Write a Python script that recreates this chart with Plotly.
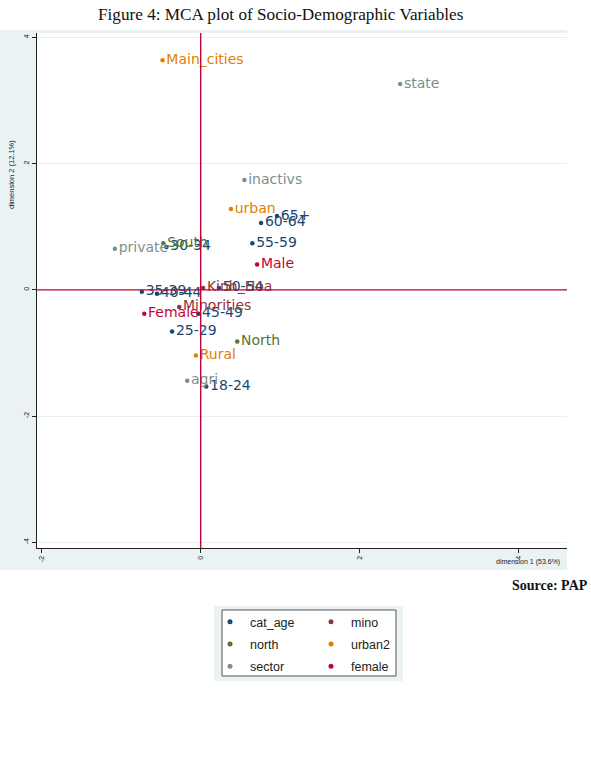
import plotly.graph_objects as go

W, H = 591, 762

# ---------------- data ----------------
groups = ["cat_age", "mino", "north", "urban2", "sector", "female"]

cat_age_labels = ["18-24", "25-29", "30-34", "35-39", "40-44", "45-49", "50-54", "55-59", "60-64", "65+"]
cat_age_dim1 = [0.07, -0.36, -0.43, -0.74, -0.55, -0.03, 0.23, 0.65, 0.76, 0.96]
cat_age_dim2 = [-1.53, -0.66, 0.68, -0.03, -0.06, -0.38, 0.03, 0.74, 1.06, 1.17]

mino_labels = ["Kinh_Hoa", "Minorities"]
mino_dim1 = [0.03, -0.27]
mino_dim2 = [0.03, -0.27]

north_labels = ["North", "South"]
north_dim1 = [0.46, -0.47]
north_dim2 = [-0.82, 0.74]

urban2_labels = ["Main_cities", "urban", "Rural"]
urban2_dim1 = [-0.48, 0.38, -0.06]
urban2_dim2 = [3.64, 1.28, -1.04]

sector_labels = ["agri", "inactivs", "private", "state"]
sector_dim1 = [-0.17, 0.55, -1.08, 2.51]
sector_dim2 = [-1.44, 1.74, 0.65, 3.26]

female_labels = ["Male", "Female"]
female_dim1 = [0.71, -0.71]
female_dim2 = [0.40, -0.38]

tick_vals = [-4, -2, 0, 2, 4]
tick_text = ["-4", "-2", "0", "2", "4"]

title_text = "Figure 4: MCA plot of Socio-Demographic Variables"
xtitle = "dimension 1 (53.6%)"
ytitle = "dimension 2 (12.1%)"
source_text = "Source: PAP"

# ---------------- styling ----------------
colors = {
    "cat_age": "#1a476f",
    "mino": "#90353b",
    "north": "#55752f",
    "urban2": "#e37e00",
    "sector": "#7d8f8c",
    "female": "#c10534",
}
legend_of = {"cat_age": "legend", "north": "legend", "sector": "legend",
             "mino": "legend2", "urban2": "legend2", "female": "legend2"}

data = {
    "cat_age": (cat_age_dim1, cat_age_dim2, cat_age_labels),
    "mino": (mino_dim1, mino_dim2, mino_labels),
    "north": (north_dim1, north_dim2, north_labels),
    "urban2": (urban2_dim1, urban2_dim2, urban2_labels),
    "sector": (sector_dim1, sector_dim2, sector_labels),
    "female": (female_dim1, female_dim2, female_labels),
}


def px(xp):
    return xp / W


def py(yp):
    return 1 - yp / H


BLUE = "#eaf2f3"
REF = "#c10534"

fig = go.Figure()

for g in groups:
    xs, ys, labs = data[g]
    c = colors[g]
    fig.add_trace(go.Scatter(
        x=xs, y=ys, text=labs, mode="markers+text",
        textposition="middle right",
        marker=dict(size=4.5, color=c),
        textfont=dict(family="DejaVu Sans", size=14, color=c),
        showlegend=False, legendgroup=g, legend=legend_of[g], name=g,
        hoverinfo="skip",
    ))
    fig.add_trace(go.Scatter(
        x=[None], y=[None], mode="markers",
        marker=dict(size=5, color=c),
        name=g, legendgroup=g, legend=legend_of[g], showlegend=True,
    ))

shapes = [
    # graph region (light blue)
    dict(type="rect", xref="paper", yref="paper", x0=0, x1=px(567), y0=py(570), y1=py(30),
         fillcolor=BLUE, line=dict(width=0), layer="below"),
    # plot region (white)
    dict(type="rect", xref="paper", yref="paper", x0=px(37), x1=px(567), y0=py(548), y1=py(33),
         fillcolor="white", line=dict(width=0), layer="below"),
    # legend outer region
    dict(type="rect", xref="paper", yref="paper", x0=px(214), x1=px(403), y0=py(681), y1=py(606),
         fillcolor=BLUE, line=dict(width=0), layer="below"),
    # legend box
    dict(type="rect", xref="paper", yref="paper", x0=px(222), x1=px(396), y0=py(676), y1=py(610),
         fillcolor="white", line=dict(width=1, color="#555555"), layer="below"),
    # reference lines at 0
    dict(type="line", xref="x", yref="y domain", x0=0, x1=0, y0=0, y1=1,
         line=dict(color=REF, width=1.4), layer="above"),
    dict(type="line", xref="x domain", yref="y", x0=0, x1=1, y0=0, y1=0,
         line=dict(color=REF, width=1.4), layer="above"),
]

annotations = [
    dict(text=title_text, xref="paper", yref="paper", x=px(281), y=py(15),
         xanchor="center", yanchor="middle", showarrow=False,
         font=dict(family="Liberation Serif", size=17.2, color="#111111")),
    dict(text=xtitle, xref="paper", yref="paper", x=px(562), y=py(562),
         xanchor="right", yanchor="middle", showarrow=False,
         font=dict(family="Liberation Sans", size=7, color="#222222")),
    dict(text=ytitle, xref="paper", yref="paper", x=px(12), y=py(175),
         xanchor="center", yanchor="middle", showarrow=False, textangle=-90,
         font=dict(family="Liberation Sans", size=7.5, color="#222222")),
    dict(text="<b>" + source_text + "</b>", xref="paper", yref="paper", x=px(590), y=py(585),
         xanchor="right", yanchor="middle", showarrow=False,
         font=dict(family="Liberation Serif", size=14, color="#111111")),
]

legend_common = dict(
    xanchor="left", yanchor="top", bgcolor="rgba(0,0,0,0)", borderwidth=0,
    font=dict(family="Liberation Sans", size=12.5, color="#222222"),
    traceorder="grouped", tracegroupgap=3, itemclick=False, itemdoubleclick=False,
)

fig.update_layout(
    width=W, height=H,
    margin=dict(l=0, r=0, t=0, b=0),
    paper_bgcolor="white", plot_bgcolor="white",
    shapes=shapes, annotations=annotations,
    legend=dict(x=px(210), y=py(607), **legend_common),
    legend2=dict(x=px(311), y=py(607), **legend_common),
    xaxis=dict(
        domain=[px(37), px(567)], range=[-2.06, 4.61],
        tickvals=tick_vals, ticktext=tick_text, tickangle=-90,
        tickfont=dict(family="Liberation Sans", size=7, color="#222222"),
        ticks="outside", ticklen=4, tickcolor="#222222", tickwidth=1,
        showgrid=False, zeroline=False,
        showline=True, linecolor="#222222", linewidth=1.2, mirror=False,
    ),
    yaxis=dict(
        domain=[py(548), py(33)], range=[-4.09, 4.07],
        tickvals=tick_vals, ticktext=tick_text, tickangle=-90,
        tickfont=dict(family="Liberation Sans", size=7, color="#222222"),
        ticks="outside", ticklen=4, tickcolor="#222222", tickwidth=1,
        showgrid=True, gridcolor="#e8eff1", gridwidth=1, zeroline=False,
        showline=True, linecolor="#222222", linewidth=1.2, mirror=False,
    ),
)

fig.write_html("out.html")
